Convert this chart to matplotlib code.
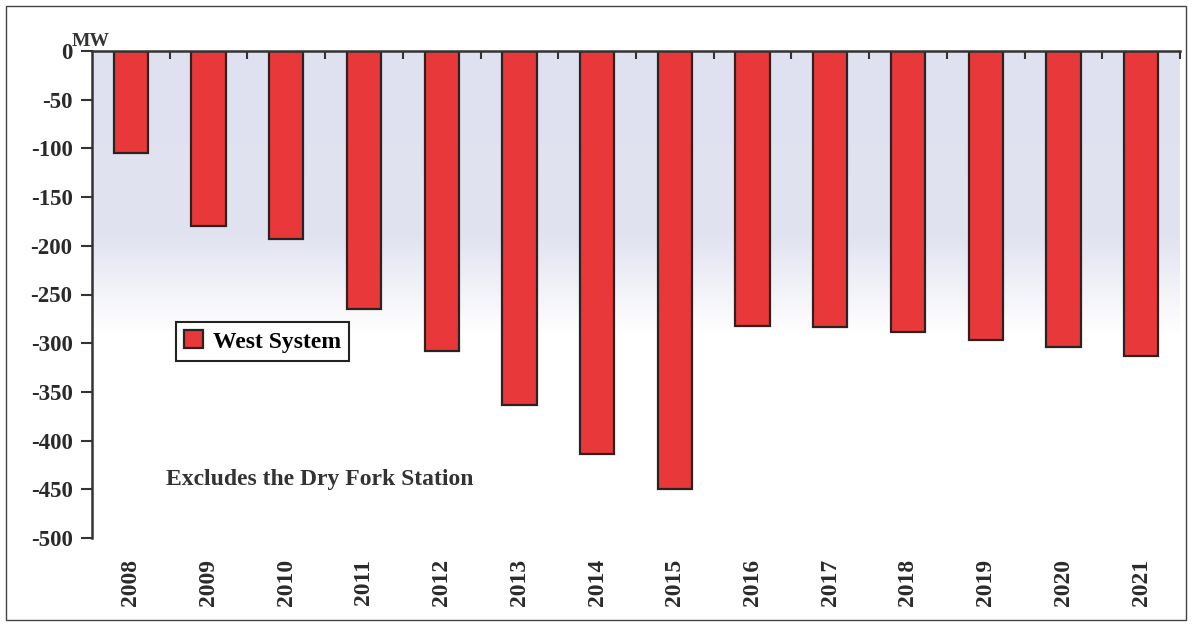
import numpy as np
import matplotlib
matplotlib.use('Agg')
import matplotlib.pyplot as plt
from matplotlib.patches import Rectangle
from matplotlib.colors import LinearSegmentedColormap

# data
years = ['2008', '2009', '2010', '2011', '2012', '2013', '2014',
         '2015', '2016', '2017', '2018', '2019', '2020', '2021']
west_system = [-105, -180, -193, -265, -308, -363, -414,
               -450, -282, -283, -288, -297, -304, -313]
yticks = [0, -50, -100, -150, -200, -250, -300, -350, -400, -450, -500]

plt.rcParams['font.family'] = ['Liberation Serif', 'DejaVu Serif']
plt.rcParams['font.weight'] = 'bold'

fig = plt.figure(figsize=(11.92, 6.25), dpi=100)
ax = fig.add_axes([92/1192, 87/625, 1088/1192, 487/625])

#background: lavender at the top fading to white lower down
grad = np.linspace(0, 1, 300).reshape(-1, 1)
cmap = LinearSegmentedColormap.from_list('bg', [(0, '#dfe1f0'), (0.38, '#e2e3f1'),
                                                (0.58, '#ffffff'), (1, '#ffffff')])
ax.imshow(grad, cmap=cmap, aspect='auto', extent=(-0.5, 13.5, -500, 0),
          origin='upper', zorder=0, interpolation='bilinear')

x = np.arange(len(years))
ax.bar(x, west_system, width=0.44, color='#e8383a', edgecolor='#2b2222',
       linewidth=1.6, label='West System', zorder=2)

ax.set_xlim(-0.5, 13.5)
ax.set_ylim(-500, 0)
ax.set_yticks(yticks)
ax.set_yticklabels([str(v) for v in yticks], fontsize=16.5, color='#2a2a2a')

ax.set_xticks(x)
ax.set_xticklabels(years, rotation=90, fontsize=17, color='#2a2a2a')
ax.set_xticks(np.arange(0.5, 14, 1), minor=True)
ax.tick_params(axis='x', which='major', length=0, pad=15)
ax.tick_params(axis='x', which='minor', bottom=False, top=True, direction='in',
               length=6, width=1.5, color='#333333')
ax.tick_params(axis='y', length=8, width=1.5, color='#333333', pad=6)

for s in ['bottom', 'right']:
    ax.spines[s].set_visible(False)
for s in ['top', 'left']:
    ax.spines[s].set_linewidth(1.8)
    ax.spines[s].set_color('#333333')

fig.text(72/1192, 1 - 46/625, 'MW', fontsize=14, color='#333333')

leg = ax.legend(loc='upper left', bbox_to_anchor=(176/1192, 1 - 322/625),
                bbox_transform=fig.transFigure, fancybox=False, edgecolor='#222222',
                framealpha=1, borderaxespad=0, fontsize=17, handlelength=0.8,
                handleheight=0.8, handletextpad=0.4, borderpad=0.35)
leg.get_frame().set_linewidth(1.5)

fig.text(166/1192, 1 - 485/625, 'Excludes the Dry Fork Station', fontsize=17,
         color='#333333')

fig.patches.append(Rectangle((6/1192, 5/625), 1180/1192, 614/625, transform=fig.transFigure,
                             fill=False, edgecolor='#444444', linewidth=1))

fig.savefig('out.png', dpi=100)
